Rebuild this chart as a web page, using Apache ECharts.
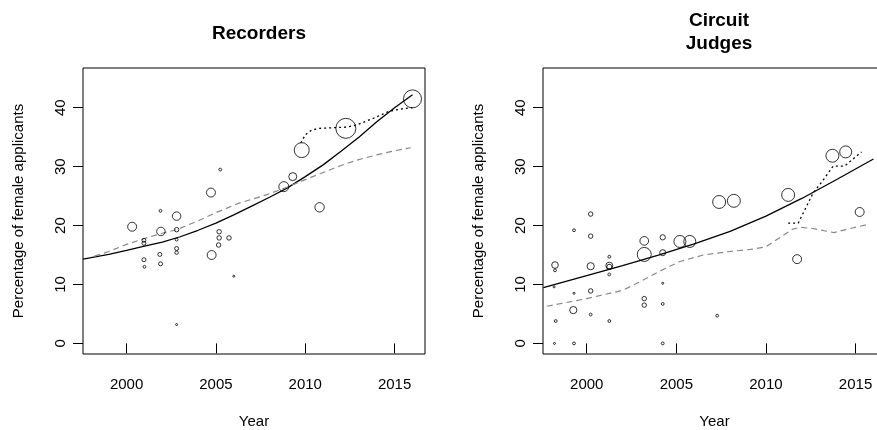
<!DOCTYPE html>
<html>
<head>
<meta charset="utf-8">
<script src="https://cdn.jsdelivr.net/npm/echarts@6/dist/echarts.min.js"></script>
<style>
  html, body { margin: 0; padding: 0; background: #fff; }
  #chart { width: 877px; height: 430px; }
</style>
</head>
<body>
<div id="chart"></div>
<script>
// ---- Recorders: yearly competitions ----
const recYear = [2000.31, 2000.97, 2000.97, 2000.97, 2001.0, 2001.9, 2001.92, 2001.86, 2001.9,
  2002.8, 2002.8, 2002.8, 2002.8, 2002.8, 2002.8, 2004.72, 2004.76, 2005.24, 2005.18, 2005.18,
  2005.15, 2005.73, 2006.0, 2008.8, 2009.3, 2009.8, 2010.8, 2012.27, 2016.0];
const recPct = [19.8, 17.5, 17.0, 14.2, 13.0, 22.5, 19.0, 15.1, 13.5,
  21.6, 19.3, 17.6, 16.1, 15.4, 3.2, 25.6, 15.0, 29.5, 18.95, 17.9,
  16.7, 17.9, 11.4, 26.6, 28.3, 32.8, 23.1, 36.5, 41.5];
const recApplicants = [20, 4, 4, 4, 2, 2, 18, 4, 4,
  18, 5, 2, 4, 3, 1, 20, 20, 2, 5, 5,
  5, 5, 1, 25, 16, 56, 22, 100, 81];

// fitted trend (solid), smoothed share (dashed), recent smoother (dotted)
const recFitYear = [1997.56, 1999, 2000, 2001, 2002, 2003, 2004, 2005, 2006, 2007, 2008, 2009, 2010, 2011, 2012, 2013, 2014, 2015, 2016];
const recFitPct = [14.3, 15.1, 15.8, 16.5, 17.2, 18.1, 19.2, 20.4, 21.8, 23.3, 24.8, 26.4, 28.3, 30.3, 32.6, 35.0, 37.6, 40.0, 42.2];
const recSmoothYear = [1998.2, 1999.0, 2000.0, 2001.0, 2002.0, 2002.8, 2004.0, 2005.0, 2006.3, 2007.8, 2008.8, 2010.0, 2011.0, 2012.0, 2013.0, 2014.0, 2015.0, 2015.9];
const recSmoothPct = [14.8, 15.6, 16.8, 17.8, 18.7, 19.3, 20.8, 22.2, 23.8, 25.2, 26.3, 27.8, 29.0, 30.2, 31.2, 32.0, 32.7, 33.2];
const recRecentYear = [2009.75, 2010.0, 2010.35, 2010.8, 2011.5, 2012.3, 2012.9, 2013.8, 2014.7, 2015.4, 2016.0];
const recRecentPct = [34.0, 35.4, 36.2, 36.5, 36.6, 36.7, 37.1, 38.2, 39.4, 39.8, 40.0];

// ---- Circuit Judges: yearly competitions ----
const cjYear = [1998.23, 1998.23, 1998.18, 1998.27, 1998.2, 1999.29, 1999.29, 1999.25, 1999.29,
  2000.22, 2000.22, 2000.22, 2000.22, 2000.22, 2001.26, 2001.26, 2001.26, 2001.26, 2001.26,
  2003.21, 2003.21, 2003.21, 2003.21, 2004.24, 2004.24, 2004.24, 2004.24, 2004.24,
  2005.2, 2005.75, 2007.28, 2007.39, 2008.21, 2011.24, 2011.74, 2013.71, 2014.45, 2015.23];
const cjPct = [13.3, 12.4, 9.6, 3.8, 0, 19.2, 8.5, 5.65, 0,
  21.95, 18.2, 13.1, 8.9, 4.9, 14.7, 13.2, 13.0, 11.7, 3.8,
  17.4, 15.1, 7.6, 6.5, 18.0, 15.4, 10.2, 6.7, 0,
  17.3, 17.3, 4.7, 24.0, 24.2, 25.2, 14.3, 31.85, 32.5, 22.3];
const cjApplicants = [11, 2, 1, 2, 1, 2, 1, 13, 2,
  5, 5, 13, 5, 2, 2, 12, 6, 2, 2,
  19, 49, 5, 5, 7, 9, 1, 2, 2,
  36, 36, 2, 42, 42, 42, 20, 42, 36, 20];

const cjFitYear = [1997.58, 2000, 2002, 2004, 2006, 2008, 2010, 2012, 2014, 2016];
const cjFitPct = [9.45, 11.5, 13.2, 15.0, 16.9, 19.0, 21.6, 24.6, 27.9, 31.3];
const cjSmoothYear = [1997.77, 2000.0, 2002.0, 2003.0, 2004.1, 2005.2, 2006.5, 2008.0, 2009.3, 2010.0, 2010.8, 2011.5, 2011.9, 2012.6, 2013.8, 2014.7, 2015.7];
const cjSmoothPct = [6.3, 7.6, 9.0, 10.5, 12.3, 13.9, 15.0, 15.6, 16.0, 16.4, 18.0, 19.4, 19.7, 19.5, 18.8, 19.5, 20.2];
const cjRecentYear = [2011.24, 2011.8, 2012.63, 2013.19, 2013.75, 2014.4, 2015.33];
const cjRecentPct = [20.4, 20.4, 25.5, 27.7, 30.1, 30.1, 32.5];

// axis labels
const yearTicks = [2000, 2005, 2010, 2015];
const pctTicks = [0, 10, 20, 30, 40];
const panelTitles = ['Recorders', 'Circuit\nJudges'];

const FONT = 'Liberation Sans, Arial, Helvetica, sans-serif';
const pairs = (xs, ys) => xs.map((x, i) => [x, ys[i]]);
const triples = (xs, ys, ns) => xs.map((x, i) => [x, ys[i], ns[i]]);

function xAxisFor(idx) {
  return {
    type: 'value', gridIndex: idx, min: 1997.56, max: 2016.7,
    name: 'Year', nameLocation: 'middle', nameGap: 60,
    nameTextStyle: { fontFamily: FONT, fontSize: 15, color: '#000' },
    axisLine: { show: false },
    axisTick: { show: true, length: 10, customValues: yearTicks, lineStyle: { color: '#000', width: 1 } },
    axisLabel: { customValues: yearTicks, margin: 23, fontFamily: FONT, fontSize: 15, color: '#000',
      formatter: v => String(v) },
    splitLine: { show: false }
  };
}
function yAxisFor(idx) {
  return {
    type: 'value', gridIndex: idx, min: -1.8, max: 46.74,
    name: 'Percentage of female applicants', nameLocation: 'middle', nameGap: 57, nameRotate: 90,
    nameTextStyle: { fontFamily: FONT, fontSize: 15, color: '#000' },
    axisLine: { show: false },
    axisTick: { show: true, length: 10, customValues: pctTicks, lineStyle: { color: '#000', width: 1 } },
    axisLabel: { customValues: pctTicks, rotate: 90, margin: 15, fontFamily: FONT, fontSize: 15, color: '#000',
      formatter: v => String(v) },
    splitLine: { show: false }
  };
}

function pointSeries(idx, data) {
  return {
    type: 'scatter', xAxisIndex: idx, yAxisIndex: idx, data: data,
    symbol: 'circle',
    symbolSize: v => 2 * Math.sqrt(v[2]),
    itemStyle: { color: 'rgba(0,0,0,0)', borderColor: '#000', borderWidth: 1 },
    emphasis: { disabled: true }, silent: true, z: 3
  };
}
function lineSeries(idx, data, color, type, width) {
  return {
    type: 'line', xAxisIndex: idx, yAxisIndex: idx, data: data,
    smooth: false, showSymbol: false, symbol: 'none',
    lineStyle: { color: color, type: type, width: width },
    emphasis: { disabled: true }, silent: true, z: 2
  };
}

const chart = echarts.init(document.getElementById('chart'), null, { renderer: 'canvas' });
chart.setOption({
  backgroundColor: '#fff',
  animation: false,
  title: [
    { text: panelTitles[0], left: 254, top: 17, textAlign: 'center',
      textStyle: { fontFamily: FONT, fontSize: 19, fontWeight: 'bold', color: '#000', lineHeight: 23 } },
    { text: panelTitles[1], left: 714, top: 4, textAlign: 'center',
      textStyle: { fontFamily: FONT, fontSize: 19, fontWeight: 'bold', color: '#000', lineHeight: 23 } }
  ],
  grid: [
    { left: 83, top: 68, width: 342, height: 286, outerBoundsMode: 'none', containLabel: false,
      show: true, borderColor: '#000', borderWidth: 1, backgroundColor: 'transparent' },
    { left: 543, top: 68, width: 343, height: 286, outerBoundsMode: 'none', containLabel: false,
      show: true, borderColor: '#000', borderWidth: 1, backgroundColor: 'transparent' }
  ],
  xAxis: [xAxisFor(0), xAxisFor(1)],
  yAxis: [yAxisFor(0), yAxisFor(1)],
  series: [
    lineSeries(0, pairs(recFitYear, recFitPct), '#000', 'solid', 1.3),
    lineSeries(0, pairs(recSmoothYear, recSmoothPct), '#888', [6, 4], 1.2),
    lineSeries(0, pairs(recRecentYear, recRecentPct), '#000', [2, 3], 1.3),
    pointSeries(0, triples(recYear, recPct, recApplicants)),
    lineSeries(1, pairs(cjFitYear, cjFitPct), '#000', 'solid', 1.3),
    lineSeries(1, pairs(cjSmoothYear, cjSmoothPct), '#888', [6, 4], 1.2),
    lineSeries(1, pairs(cjRecentYear, cjRecentPct), '#000', [2, 3], 1.3),
    pointSeries(1, triples(cjYear, cjPct, cjApplicants))
  ]
});
</script>
</body>
</html>
